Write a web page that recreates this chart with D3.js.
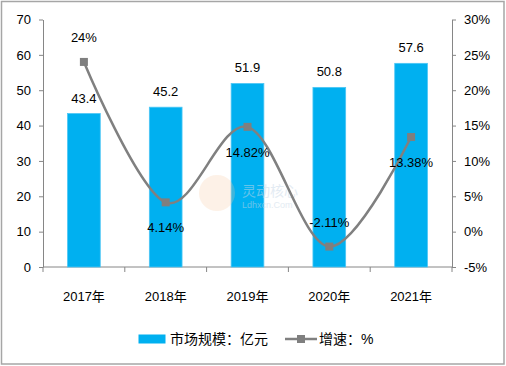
<!DOCTYPE html>
<html>
<head>
<meta charset="utf-8">
<script src="https://cdn.jsdelivr.net/npm/d3@7"></script>
<style>
  html, body { margin: 0; padding: 0; background: #fff; }
  svg { display: block; }
  text { font-family: "Liberation Sans", "Noto Sans CJK SC", sans-serif; }
</style>
</head>
<body>
<div id="chart"></div>
<script>
// Données
const years = ["2017年", "2018年", "2019年", "2020年", "2021年"]
const marketSize = [43.4, 45.2, 51.9, 50.8, 57.6]   // 亿元
const growth = [24, 4.14, 14.82, -2.11, 13.38]       // %
const growthLabels = ["24%", "4.14%", "14.82%", "-2.11%", "13.38%"]
const leftTicks = [0, 10, 20, 30, 40, 50, 60, 70]
const rightTicks = [-5, 0, 5, 10, 15, 20, 25, 30]

// mise en page : étiquette au-dessus (-1) ou en dessous (+1) du marqueur
const growthLabelSide = [-1, 1, 1, -1, 1]

const W = 506, H = 366
const plot = { left: 43, right: 452, top: 19.5, bottom: 267 }

const axisColor = "#868686"
const barColor = "#00B0F0"
const lineColor = "#808080"

const svg = d3.select("#chart").append("svg")
  .attr("width", W).attr("height", H)
  .attr("viewBox", `0 0 ${W} ${H}`)

// cadre extérieur
svg.append("rect")
  .attr("x", 1.5).attr("y", 1.5).attr("width", W - 3.5).attr("height", H - 3.5)
  .attr("fill", "#fff").attr("stroke", "#a6a6a6").attr("stroke-width", 1.5)

const x = d3.scaleBand().domain(years)
  .range([plot.left, plot.right]).paddingInner(0.6).paddingOuter(0.3)
const xCat = d3.scaleBand().domain(years).range([plot.left, plot.right])
const yL = d3.scaleLinear().domain([0, 70]).range([plot.bottom, plot.top])
const yR = d3.scaleLinear().domain([-5, 30]).range([plot.bottom, plot.top])

// axe gauche
const gL = svg.append("g").attr("transform", `translate(${plot.left},0)`)
  .call(d3.axisLeft(yL).tickValues(leftTicks).tickSize(4).tickPadding(8).tickSizeOuter(0))
gL.select(".domain").attr("stroke", axisColor)
gL.selectAll(".tick line").attr("stroke", axisColor)
gL.selectAll(".tick text").attr("font-size", 13).attr("fill", "#000")
  .attr("font-family", "Liberation Sans, sans-serif")

// axe droit
const gR = svg.append("g").attr("transform", `translate(${plot.right},0)`)
  .call(d3.axisRight(yR).tickValues(rightTicks).tickSize(4).tickPadding(8).tickSizeOuter(0)
    .tickFormat((d) => d + "%"))
gR.select(".domain").attr("stroke", axisColor)
gR.selectAll(".tick line").attr("stroke", axisColor)
gR.selectAll(".tick text").attr("font-size", 13).attr("fill", "#000")
  .attr("font-family", "Liberation Sans, sans-serif")

// axe X : traits aux limites de catégories
svg.append("line")
  .attr("x1", plot.left).attr("x2", plot.right)
  .attr("y1", plot.bottom).attr("y2", plot.bottom)
  .attr("stroke", axisColor)
svg.append("g").selectAll("line")
  .data(years.concat(["end"]))
  .join("line")
  .attr("x1", (d, i) => plot.left + i * xCat.step())
  .attr("x2", (d, i) => plot.left + i * xCat.step())
  .attr("y1", plot.bottom).attr("y2", plot.bottom + 5)
  .attr("stroke", axisColor)
svg.append("g").selectAll("text")
  .data(years)
  .join("text")
  .attr("x", (d) => xCat(d) + xCat.bandwidth() / 2)
  .attr("y", 301)
  .attr("text-anchor", "middle")
  .attr("font-size", 13)
  .text((d) => d)

// barres
svg.append("g").selectAll("rect")
  .data(marketSize)
  .join("rect")
  .attr("x", (d, i) => x(years[i]))
  .attr("y", (d) => yL(d))
  .attr("width", x.bandwidth())
  .attr("height", (d) => plot.bottom - yL(d))
  .attr("fill", barColor)
  .attr("stroke", "#4cc6f4").attr("stroke-width", 0.8)

svg.append("g").selectAll("text")
  .data(marketSize)
  .join("text")
  .attr("x", (d, i) => x(years[i]) + x.bandwidth() / 2)
  .attr("y", (d) => yL(d) - 11)
  .attr("text-anchor", "middle")
  .attr("font-size", 13)
  .text((d) => d.toFixed(1))

// filigrane
const wm = svg.append("g").attr("pointer-events", "none")
wm.append("circle").attr("cx", 217).attr("cy", 193).attr("r", 18)
  .attr("fill", "#f7c9a0").attr("opacity", 0.25)
wm.append("text").attr("x", 242).attr("y", 196)
  .attr("font-size", 14).attr("font-family", "Noto Sans CJK SC")
  .attr("fill", "#c8d8e8").attr("opacity", 0.5).text("灵动核心")
wm.append("text").attr("x", 242).attr("y", 208)
  .attr("font-size", 9).attr("font-family", "DejaVu Serif")
  .attr("fill", "#c8d8e8").attr("opacity", 0.5).text("Ldhxcn.Com")

// courbe lissée
const pts = growth.map((v, i) => [xCat(years[i]) + xCat.bandwidth() / 2, yR(v)])
svg.append("path")
  .attr("d", d3.line().curve(d3.curveCatmullRom.alpha(0))(pts))
  .attr("fill", "none")
  .attr("stroke", lineColor)
  .attr("stroke-width", 2.5)

svg.append("g").selectAll("rect")
  .data(pts)
  .join("rect")
  .attr("x", (d) => d[0] - 4).attr("y", (d) => d[1] - 4)
  .attr("width", 8).attr("height", 8)
  .attr("fill", "#7f7f7f")

svg.append("g").selectAll("text")
  .data(growth)
  .join("text")
  .attr("x", (d, i) => pts[i][0])
  .attr("y", (d, i) => pts[i][1] + growthLabelSide[i] * 25 + 5)
  .attr("text-anchor", "middle")
  .attr("font-size", 13)
  .text((d, i) => growthLabels[i])

// légende
const lg = svg.append("g")
lg.append("rect").attr("x", 138.5).attr("y", 334.5).attr("width", 27).attr("height", 9)
  .attr("fill", barColor)
lg.append("text").attr("x", 170).attr("y", 343.5)
  .attr("font-size", 14).attr("font-family", "Noto Sans CJK SC")
  .text("市场规模：亿元")
lg.append("line").attr("x1", 285).attr("x2", 317).attr("y1", 339).attr("y2", 339)
  .attr("stroke", lineColor).attr("stroke-width", 2.5)
lg.append("rect").attr("x", 297).attr("y", 335).attr("width", 8).attr("height", 8)
  .attr("fill", "#7f7f7f")
lg.append("text").attr("x", 319).attr("y", 343.5)
  .attr("font-size", 14).attr("font-family", "Noto Sans CJK SC")
  .text("增速：%")
</script>
</body>
</html>
